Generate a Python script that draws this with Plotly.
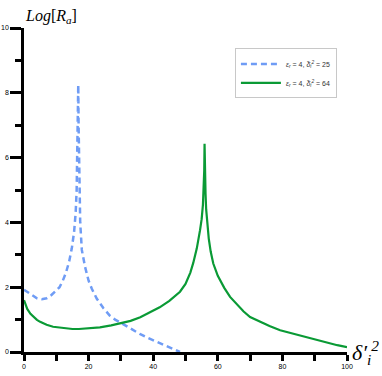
import plotly.graph_objects as go

# curve 1: eps_r = 4, delta^2 = 25 (blue dashed)
x_25 = [0, 1, 2, 3, 4, 5.5, 7, 8.5, 10, 11, 12, 13, 14, 14.8, 15.5, 16, 16.3, 16.5, 16.7, 16.8,
        16.9, 17.1, 17.4, 17.9, 18.9, 20, 21, 22.5, 24.6, 26.6, 28.2, 30, 32, 34, 36, 38, 40,
        42, 44, 46, 48.3]
y_25 = [1.92, 1.85, 1.78, 1.71, 1.66, 1.63, 1.66, 1.76, 1.9, 2.0, 2.2, 2.45, 2.8, 3.2, 3.7, 4.3,
        5.0, 6.0, 7.2, 8.25, 7.0, 5.5, 4.0, 3.15, 2.63, 2.2, 1.95, 1.65, 1.35, 1.12, 1.0, 0.9,
        0.78, 0.66, 0.55, 0.45, 0.36, 0.27, 0.18, 0.09, 0.0]

# curve 2: eps_r = 4, delta^2 = 64 (green solid)
x_64 = [0, 0.5, 1, 2, 3, 4, 5, 7, 9, 11, 13, 15, 17, 20, 23.5, 27, 30, 33, 36, 39, 42, 45,
        48.3, 50, 51.5, 52.4, 53.5, 54.5, 55.0, 55.4, 55.6, 55.8, 55.9, 56.0, 56.2, 56.4, 56.7,
        57.2, 57.8, 58.6, 60, 62, 63.8, 66, 68, 70, 73, 76, 79.3, 82, 85.2, 88, 91, 94, 97, 100]
y_64 = [1.6, 1.45, 1.33, 1.18, 1.07, 0.99, 0.93, 0.84, 0.78, 0.75, 0.72, 0.71, 0.71, 0.73,
        0.76, 0.82, 0.88, 0.96, 1.07, 1.22, 1.38, 1.58, 1.86, 2.1, 2.45, 2.75, 3.2, 3.76, 4.1,
        4.55, 4.95, 5.6, 6.43, 5.6, 4.9, 4.4, 3.95, 3.5, 3.1, 2.73, 2.35, 1.98, 1.7, 1.45,
        1.25, 1.08, 0.93, 0.8, 0.67, 0.6, 0.51, 0.43, 0.35, 0.28, 0.21, 0.15]

x_ticks = [0, 20, 40, 60, 80, 100]
y_ticks = [0, 2, 4, 6, 8, 10]

fig = go.Figure()
fig.add_trace(go.Scatter(
    x=x_25, y=y_25, mode="lines",
    name="<i>ε<sub>r</sub></i> = 4, <i>δ̃<sub>i</sub><sup>2</sup></i> = 25",
    line=dict(color="#6f9cf5", width=2.5, dash="6px,4px"),
))
fig.add_trace(go.Scatter(
    x=x_64, y=y_64, mode="lines",
    name="<i>ε<sub>r</sub></i> = 4, <i>δ̃<sub>i</sub><sup>2</sup></i> = 64",
    line=dict(color="#0a9a35", width=2.2),
))

axis_common = dict(
    showgrid=False, zeroline=False, showline=True, automargin=False,
    linecolor="black", linewidth=2.5,
    ticks="outside", tickcolor="black", tickwidth=2.5,
    tickfont=dict(family="Liberation Sans", size=7, color="black"),
)

fig.update_layout(
    width=382, height=376,
    margin=dict(l=24, r=35, t=28, b=24),
    plot_bgcolor="white", paper_bgcolor="white",
    xaxis=dict(range=[0, 100], tickvals=x_ticks, ticklen=6,
               minor=dict(ticks="outside", dtick=10, ticklen=6, tickwidth=2.5, tickcolor="black"),
               **axis_common),
    yaxis=dict(range=[0, 10], tickvals=y_ticks, ticklen=11,
               minor=dict(ticks="outside", dtick=1, ticklen=6, tickwidth=2.5, tickcolor="black"),
               **axis_common),
    legend=dict(x=0.653, y=0.937, xanchor="left", yanchor="top",
                bgcolor="white", bordercolor="#c8c8c8", borderwidth=1,
                font=dict(family="Liberation Sans", size=7, color="#333"),
                tracegroupgap=6, itemwidth=40),
    showlegend=True,
)

fig.add_annotation(
    text="<i>Log</i>[<i>R<sub>a</sub></i>]", xref="paper", yref="paper",
    x=0.085, y=1.0, xanchor="center", yanchor="bottom", showarrow=False,
    font=dict(family="Liberation Serif", size=16, color="black"),
)
fig.add_annotation(
    text="<i>δ′<sub>i</sub><sup>2</sup></i>", xref="paper", yref="paper",
    x=1.01, y=0.0, xanchor="left", yanchor="middle", showarrow=False,
    font=dict(family="Liberation Serif", size=22, color="black"),
)

# drop the default 8px page margin so the figure fills the window
fig.write_html("out.html", config={"displayModeBar": False},
               post_script="document.body.style.margin='0';")
